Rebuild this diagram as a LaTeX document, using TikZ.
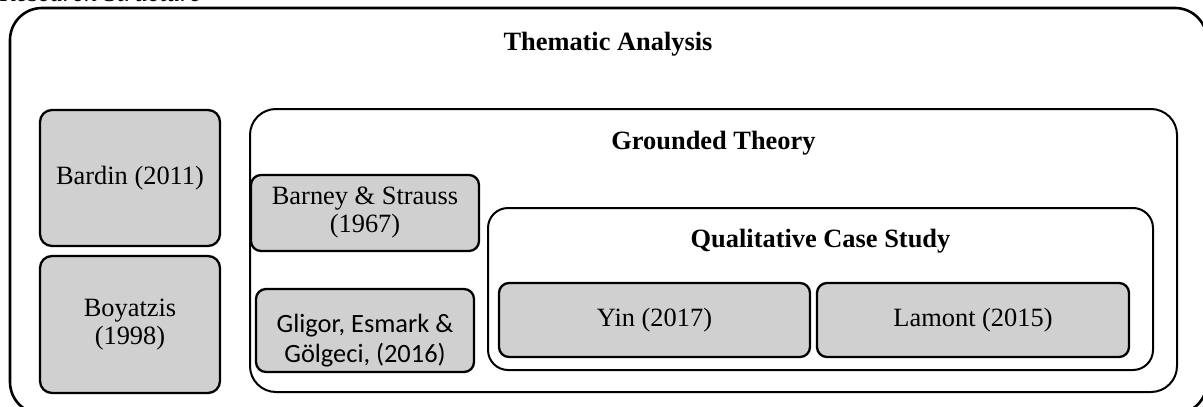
\documentclass[tikz,border=0pt]{standalone}
\usepackage{fontspec}
\setmainfont{Liberation Serif}
\newfontfamily\calibfont{Carlito}
\definecolor{boxgray}{RGB}{208,208,208}
\begin{document}
\begin{tikzpicture}[x=1pt,y=-1pt,
  txt/.style={font=\fontsize{26.4}{28}\selectfont},
  gbox/.style={draw, line width=2.3pt, fill=boxgray, rounded corners=12pt,
    inner sep=0pt, align=center, txt},
  frame/.style={draw, line width=2pt, inner sep=0pt},
  ttl/.style={txt, font=\fontsize{26.4}{28}\selectfont\bfseries, inner sep=0pt, anchor=base}]
\useasboundingbox (0,0) rectangle (1203,407);
\clip (0,0) rectangle (1203,407);
\node[txt, font=\fontsize{26.4}{28}\selectfont\itshape, anchor=base west, inner sep=0pt] (cap) at (0,1) {Research Structure};
% outer frame
\draw[line width=2.6pt, rounded corners=32pt] (10,8) rectangle (1207,414);
\node[ttl] (tht) at (608,50) {Thematic Analysis};
\node[gbox, minimum width=180pt, minimum height=136pt] (bardin) at (130,178) {Bardin (2011)};
\node[gbox, minimum width=180pt, minimum height=137pt] (boy) at (130,324.5) {Boyatzis\\(1998)};
% grounded theory
\node[frame, rounded corners=26pt, minimum width=927pt, minimum height=283pt] (gt) at (713.5,250.5) {};
\node[ttl] (gtt) at (713.5,149) {Grounded Theory};
\node[gbox, rounded corners=10pt, minimum width=228pt, minimum height=76pt] (barney) at (365,213) {Barney \& Strauss\\(1967)};
\node[gbox, rounded corners=10pt, minimum width=218pt, minimum height=83pt] (gligor) at (365,330.5) {};
\node[txt, font=\calibfont\fontsize{26.4}{30}\selectfont, align=center, inner sep=0pt] (gligort) at (365,341) {Gligor, Esmark \&\\Gölgeci, (2016)};
% qualitative case study
\node[frame, rounded corners=20pt, minimum width=665pt, minimum height=162pt] (qcs) at (820.5,289) {};
\node[ttl] (qcst) at (820.5,247) {Qualitative Case Study};
\node[gbox, rounded corners=10pt, minimum width=311pt, minimum height=74pt] (yin) at (654.5,320) {Yin (2017)};
\node[gbox, rounded corners=10pt, minimum width=312pt, minimum height=74pt] (lamont) at (973,320) {Lamont (2015)};
\end{tikzpicture}
\end{document}
